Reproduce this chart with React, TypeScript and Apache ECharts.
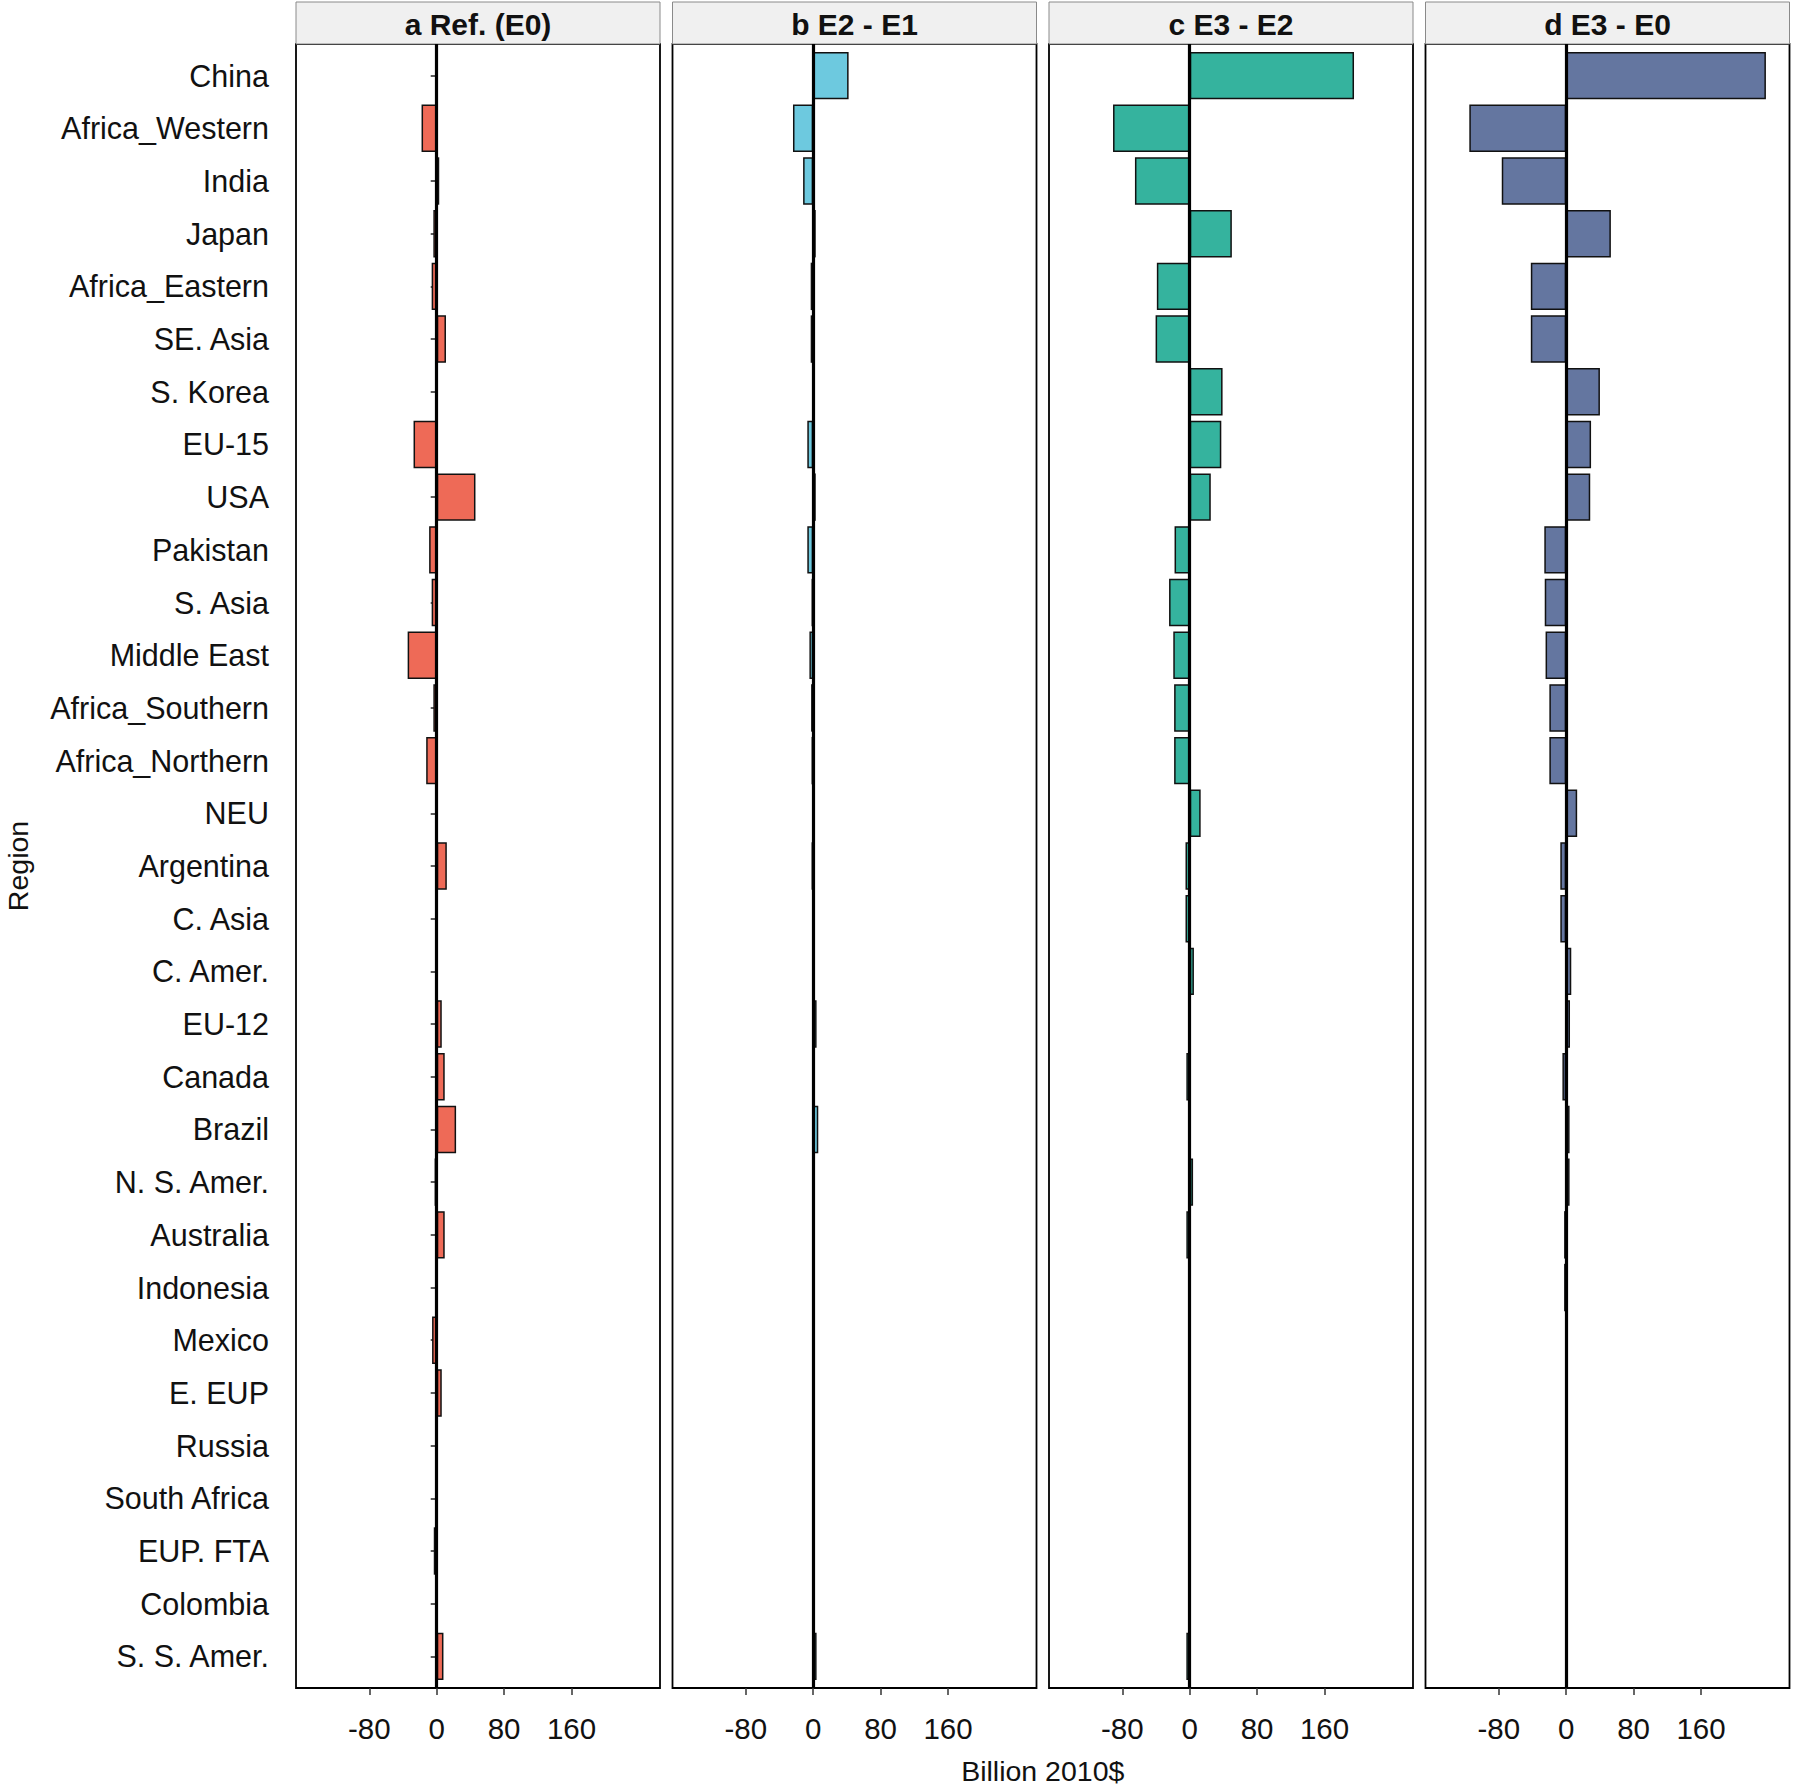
import React, { useEffect, useRef } from "react";
import * as echarts from "echarts";

const regions = [
  "China", "Africa_Western", "India", "Japan", "Africa_Eastern", "SE. Asia",
  "S. Korea", "EU-15", "USA", "Pakistan", "S. Asia", "Middle East",
  "Africa_Southern", "Africa_Northern", "NEU", "Argentina", "C. Asia",
  "C. Amer.", "EU-12", "Canada", "Brazil", "N. S. Amer.", "Australia",
  "Indonesia", "Mexico", "E. EUP", "Russia", "South Africa", "EUP. FTA",
  "Colombia", "S. S. Amer.",
];

const refE0 = [
  0, -18, 3, -4, -6, 11, -1.5, -27.5, 46, -9, -6, -34.5, -4, -12.5, 1, 12, 0,
  0, 6, 9.5, 23, -2.5, 9.5, -1.5, -5.5, 6, -1.5, 0, -3.5, -1, 8,
];

const e2MinusE1 = [
  42, -24, -12, 3, -3, -3, 1.5, -7, 3, -7, -2, -4.5, -2.5, -2, 0, -2, 0, 1.5,
  4, 0, 6, 0, 0, 0, 0, 0, 0, 0, 0, 0, 4,
];

const e3MinusE2 = [
  195, -91, -65, 50, -39, -40.5, 39, 37.5, 25, -18, -24.5, -19.5, -18.5, -18.5,
  13, -5, -5, 5, 0, -4, -2, 4, -4, -1.5, -1.5, -2, 0, 0, 0, 0, -4,
];

const e3MinusE0 = [
  237, -115, -76.5, 53, -42, -42, 40, 29.5, 28.5, -26, -25.5, -24.5, -20, -20,
  13, -7, -7, 6, 4.5, -4.5, 4, 4, -2.5, -2.5, -0.5, 0, 0, 0, 0, 0, 0,
];

const panelTitles = ["a Ref. (E0)", "b E2 - E1", "c E3 - E2", "d E3 - E0"];
const panelColors = ["#EE6A57", "#6DC9DF", "#35B39E", "#6476A0"];
const xTickValues = [-80, 0, 80, 160];
const xMin = -167;
const xMax = 265;
const xAxisTitle = "Billion 2010$";
const yAxisTitle = "Region";

const FONT = "'Liberation Sans', Arial, Helvetica, sans-serif";

export default function App() {
  const ref = useRef<HTMLDivElement>(null);

  useEffect(() => {
    document.body.style.margin = "0";
    const chart = echarts.init(ref.current!, null, { renderer: "svg" });

    const panelData = [refE0, e2MinusE1, e3MinusE2, e3MinusE0];
    const panelLeft0 = 296;
    const panelStep = 376.5;
    const panelW = 364;
    const panelTop = 44;
    const panelH = 1644;
    const unit = panelH / (regions.length + 0.2);
    const inset = unit * 0.1;

    const grids: any[] = [];
    const xAxes: any[] = [];
    const yAxes: any[] = [];
    const series: any[] = [];
    const graphics: any[] = [];

    // frame grids (0..3)
    for (let i = 0; i < 4; i++) {
      const left = panelLeft0 + i * panelStep;
      grids.push({
        left,
        top: panelTop,
        width: panelW,
        height: panelH,
        show: true,
        backgroundColor: "#ffffff",
        borderColor: "#000000",
        borderWidth: 1.8,
        z: 0,
      });
      xAxes.push({
        type: "value",
        gridIndex: i,
        min: xMin,
        max: xMax,
        position: "bottom",
        axisLine: { show: false },
        splitLine: { show: false },
        axisTick: {
          show: true,
          customValues: xTickValues,
          length: 7,
          lineStyle: { color: "#333333", width: 1.5 },
        },
        axisLabel: {
          show: true,
          customValues: xTickValues,
          fontSize: 29.5,
          color: "#111111",
          fontFamily: FONT,
          margin: 25,
        },
      });
      yAxes.push({
        type: "value",
        gridIndex: i,
        min: 0,
        max: 1,
        show: false,
      });
      series.push({
        type: "line",
        xAxisIndex: i,
        yAxisIndex: i,
        data: [],
        z: 10,
        silent: true,
        markLine: {
          silent: true,
          symbol: ["none", "none"],
          label: { show: false },
          lineStyle: { color: "#000000", width: 3.2, type: "solid" },
          data: [{ xAxis: 0 }],
          z: 10,
        },
      });
    }

    // bar grids (4..7)
    for (let i = 0; i < 4; i++) {
      const left = panelLeft0 + i * panelStep;
      const gi = 4 + i;
      grids.push({
        left,
        top: panelTop + inset,
        width: panelW,
        height: panelH - 2 * inset,
        show: false,
      });
      xAxes.push({
        type: "value",
        gridIndex: gi,
        min: xMin,
        max: xMax,
        show: false,
      });
      yAxes.push({
        type: "category",
        gridIndex: gi,
        data: regions,
        inverse: true,
        axisLine: { show: false },
        splitLine: { show: false },
        axisTick: {
          show: i === 0,
          alignWithLabel: true,
          length: 6,
          lineStyle: { color: "#333333", width: 1.6 },
        },
        axisLabel: {
          show: i === 0,
          fontSize: 30.5,
          color: "#111111",
          fontFamily: FONT,
          margin: 27,
        },
      });
      series.push({
        type: "bar",
        xAxisIndex: gi,
        yAxisIndex: gi,
        data: panelData[i],
        barCategoryGap: "10%",
        itemStyle: {
          color: panelColors[i],
          borderColor: "#111111",
          borderWidth: 1.5,
        },
        z: 2,
        silent: true,
      });

      // strip header
      graphics.push({
        type: "rect",
        shape: { x: left, y: 2, width: panelW, height: panelTop - 2 },
        style: { fill: "#f0f0f0", stroke: "#8a8a8a", lineWidth: 1 },
        z: 1,
      });
      graphics.push({
        type: "text",
        x: left + panelW / 2,
        y: 2 + (panelTop - 2) / 2 + 1,
        style: {
          text: panelTitles[i],
          fontSize: 30,
          fontWeight: "bold",
          fontFamily: FONT,
          fill: "#111111",
          align: "center",
          verticalAlign: "middle",
        },
        z: 2,
      });
    }

    const panelsCenterX = (panelLeft0 + panelLeft0 + 3 * panelStep + panelW) / 2;
    graphics.push({
      type: "text",
      x: panelsCenterX,
      y: 1771,
      style: {
        text: xAxisTitle,
        fontSize: 28.5,
        fontFamily: FONT,
        fill: "#111111",
        align: "center",
        verticalAlign: "middle",
      },
    });
    graphics.push({
      type: "text",
      x: 18,
      y: panelTop + panelH / 2,
      rotation: Math.PI / 2,
      style: {
        text: yAxisTitle,
        fontSize: 28.5,
        fontFamily: FONT,
        fill: "#111111",
        align: "center",
        verticalAlign: "middle",
      },
    });

    chart.setOption({
      animation: false,
      backgroundColor: "#ffffff",
      grid: grids,
      xAxis: xAxes,
      yAxis: yAxes,
      series,
      graphic: { elements: graphics },
    });

    return () => chart.dispose();
  }, []);

  return <div ref={ref} style={{ width: 1800, height: 1788 }} />;
}
